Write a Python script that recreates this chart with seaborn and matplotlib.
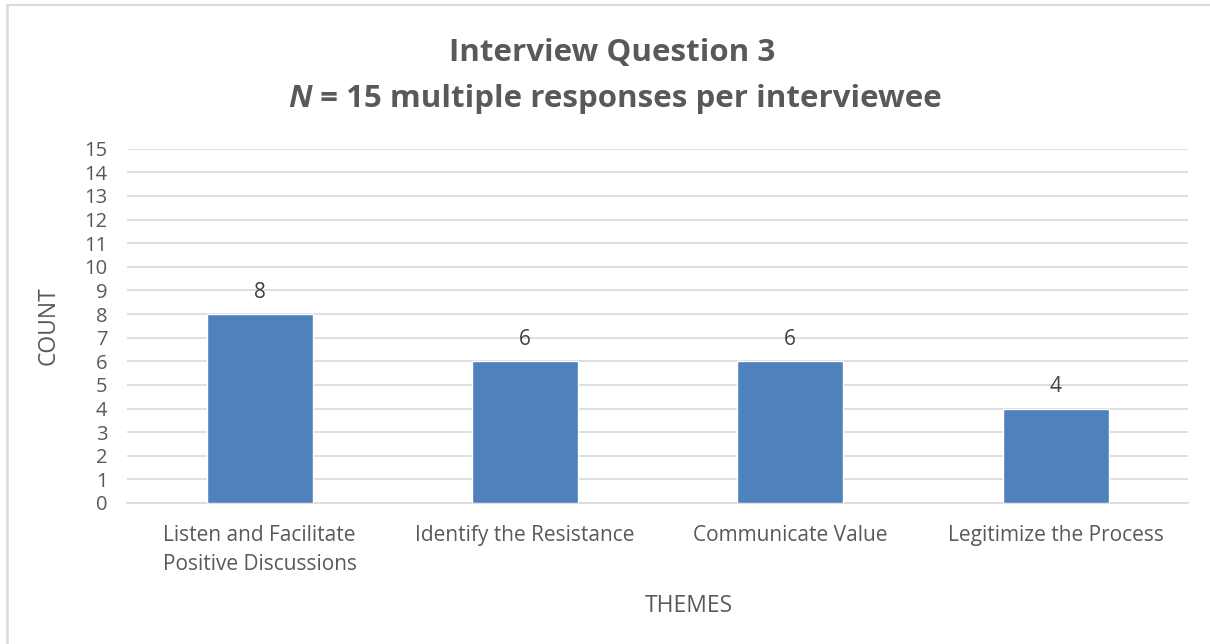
import pandas as pd
import matplotlib
matplotlib.use("Agg")
import matplotlib.pyplot as plt
import seaborn as sns
from matplotlib.lines import Line2D

# data
themes = ["Listen and Facilitate\nPositive Discussions", "Identify the Resistance",
          "Communicate Value", "Legitimize the Process"]
counts = [8, 6, 6, 4]
y_ticks = list(range(0, 16))

df = pd.DataFrame({"theme": themes, "count": counts})

sns.set_theme(style="white")
plt.rcParams["font.family"] = ["Open Sans", "DejaVu Sans"]
txt = "#595959"

fig = plt.figure(figsize=(12.1, 6.44), dpi=100)
ax = fig.add_axes([0.105, 0.219, 0.877, 0.550])

sns.barplot(data=df, x="theme", y="count", color="#4F81BD", width=0.4,
            saturation=1, ax=ax, zorder=3)

ax.set_ylim(0, 15)
ax.set_yticks(y_ticks)
ax.yaxis.grid(True, color="#D9D9D9", linewidth=1.2, zorder=0)
for s in ["top", "right", "left"]:
    ax.spines[s].set_visible(False)
ax.spines["bottom"].set_color("#D9D9D9")
ax.spines["bottom"].set_linewidth(1.2)
ax.tick_params(axis="both", colors=txt, labelsize=14.5, length=0)
ax.tick_params(axis="y", pad=14)
ax.tick_params(axis="x", pad=16)
for lab in ax.get_xticklabels():
    lab.set_linespacing(1.5)
    lab.set_fontsize(15)
ax.set_xlabel("THEMES", color=txt, fontsize=16.5)
ax.set_ylabel("COUNT", color=txt, fontsize=16.5)
ax.xaxis.set_label_coords(0.529, -0.257)
ax.yaxis.set_label_coords(-0.063, 0.5)

for c in ax.containers:
    ax.bar_label(c, padding=8, color="#404040", fontsize=15)

# title, two lines, second line with italic N
fig.text(0.506, 0.917, "Interview Question 3", ha="center", va="center",
         fontsize=22.5, fontweight="bold", color=txt)
line2 = fig.text(0.508, 0.846, " = 15 multiple responses per interviewee", ha="center",
                 va="center", fontsize=22.5, fontweight="bold", color=txt)
fig.canvas.draw()
bb = line2.get_window_extent(fig.canvas.get_renderer())
n = fig.text(0, 0.846, "N", ha="right", va="center", fontsize=22.5,
             fontweight="bold", fontstyle="italic", color=txt)
nb = n.get_window_extent(fig.canvas.get_renderer())
shift = nb.width / 2 / fig.bbox.width
line2.set_x(0.508 + shift)
n.set_x(bb.x0 / fig.bbox.width + shift)

# light frame lines on top and left edges, as in the reference
fig.lines.append(Line2D([0.0055, 1.0], [0.9915, 0.9915], transform=fig.transFigure,
                        color="#D9D9D9", linewidth=1.5))
fig.lines.append(Line2D([0.0055, 0.0055], [0.0, 0.9915], transform=fig.transFigure,
                        color="#D9D9D9", linewidth=1.8))

fig.savefig("out.png", dpi=100)
